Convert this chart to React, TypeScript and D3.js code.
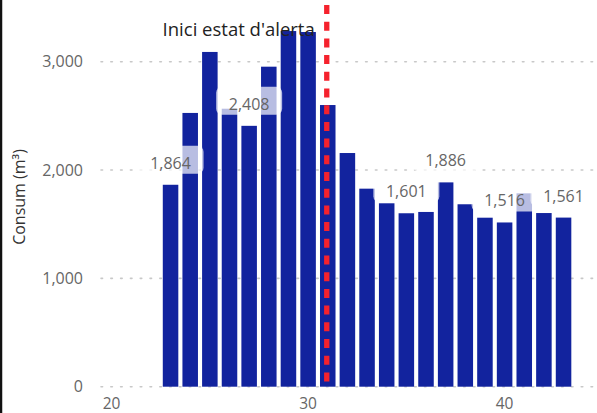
import * as d3 from 'd3';

const weeks = [23, 24, 25, 26, 27, 28, 29, 30, 31, 32, 33, 34, 35, 36, 37, 38, 39, 40, 41, 42, 43];
const consum = [1864, 2527, 3090, 2566, 2408, 2954, 3283, 3274, 2600, 2157, 1828, 1693, 1601, 1613, 1886, 1684, 1560, 1516, 1785, 1603, 1561];
const labelledWeeks = [23, 27, 35, 37, 40, 43];
const yTicks = [0, 1000, 2000, 3000];
const xTicks = [20, 30, 40];
const alertWeek = 31;
const alertText = "Inici estat d'alerta";

const W = 597;
const H = 413;
const font = "'Open Sans', 'Noto Sans', sans-serif";

export default function App() {
  const x = d3.scaleLinear().domain([20, 40]).range([111.6, 504.6]);
  const y = d3.scaleLinear().domain([0, 3000]).range([386.7, 61.7]);
  const bw = (x(21) - x(20)) * 0.79;
  const fmt = d3.format(',');

  return (
    <div style={{ position: 'fixed', left: 0, top: 0, width: W, height: H, background: '#fff' }}>
      <svg width={W} height={H} style={{ display: 'block', fontFamily: font }}>
        <line x1={1} x2={1} y1={0} y2={H} stroke="#111" strokeWidth={2.5} />

        {yTicks.map((t) => (
          <g key={t}>
            <line x1={101} x2={W} y1={y(t)} y2={y(t)} stroke="#c8c8c8" strokeWidth={1.6}
              strokeDasharray="1.6 8.2" strokeLinecap="round" />
            <text x={83} y={y(t)} dy="0.35em" textAnchor="end" fontSize={16} fill="#666">{fmt(t)}</text>
          </g>
        ))}

        {xTicks.map((t) => (
          <text key={t} x={x(t)} y={408.5} textAnchor="middle" fontSize={15.5} fill="#666">{t}</text>
        ))}

        <text transform={`translate(24.5,197) rotate(-90)`} textAnchor="middle" fontSize={16} fill="#333">Consum (m³)</text>

        {weeks.map((w, i) => (
          <rect key={w} x={x(w) - bw / 2} y={y(consum[i])} width={bw} height={y(0) - y(consum[i])} fill="#12239E" />
        ))}

        {weeks.map((w, i) => labelledWeeks.includes(w) ? (
          <g key={`l${w}`}>
            <rect x={x(w) - 33} y={y(consum[i]) - 39} width={66} height={28} rx={6} fill="#fff" fillOpacity={0.7} />
            <text x={x(w)} y={y(consum[i]) - 16} textAnchor="middle" fontSize={16} fill="#666">{fmt(consum[i])}</text>
          </g>
        ) : null)}

        <line x1={x(alertWeek) - 1} x2={x(alertWeek) - 1} y1={5} y2={y(0)} stroke="#f5222d" strokeWidth={5.3}
          strokeDasharray="9 7.7" />
        <text x={x(alertWeek) - 13} y={36} textAnchor="end" fontSize={18.5} fill="#222">{alertText}</text>
      </svg>
    </div>
  );
}
